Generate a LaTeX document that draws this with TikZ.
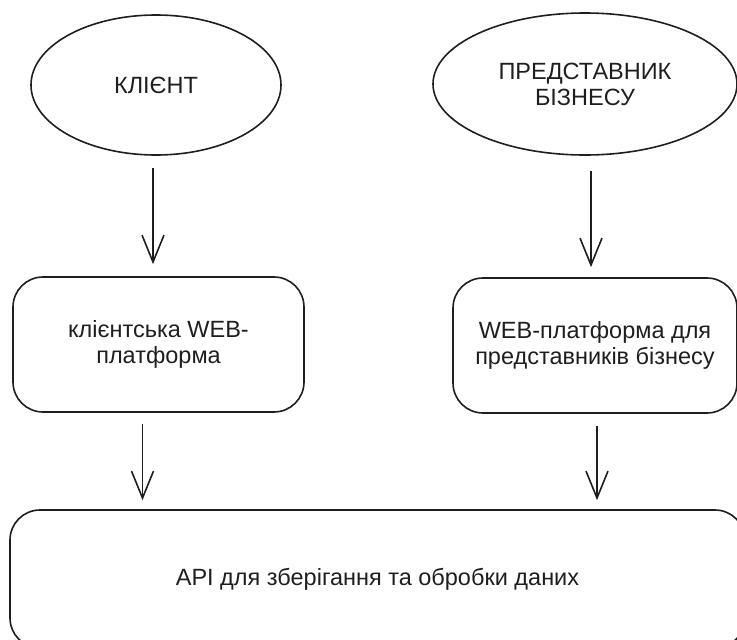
\documentclass[tikz,border=0pt]{standalone}
\usepackage{fontspec}
\setmainfont{Liberation Sans}
\usetikzlibrary{shapes.geometric,arrows.meta}
\definecolor{ink}{HTML}{1E1E1E}
\tikzset{
  every node/.style={font=\fontsize{23.5}{26}\selectfont, text=ink},
  actor/.style={ellipse, draw=ink, line width=1.6pt, inner sep=0pt},
  boxnode/.style={rectangle, rounded corners=30pt, draw=ink, line width=1.6pt, inner sep=0pt, align=center},
  arr/.style={draw=ink, line width=1.6pt, -{Straight Barb[length=27pt,width=22pt,line width=1.6pt]}}
}
\begin{document}
\begin{tikzpicture}[x=1pt,y=-1pt]
\useasboundingbox (0,0) rectangle (737,640);
\clip (0,0) rectangle (737,640);
\node[actor, minimum width=250pt, minimum height=140pt] (e1) at (156,85) {КЛІЄНТ};
\node[actor, minimum width=304pt, minimum height=142pt, align=center] (e2) at (585,84) {ПРЕДСТАВНИК\\БІЗНЕСУ};
\node[boxnode, minimum width=291pt, minimum height=135pt] (b1) at (158.5,344.5) {клієнтська WEB-\\платформа};
\node[boxnode, minimum width=284pt, minimum height=135pt] (b2) at (595,345.5) {WEB-платформа для\\представників бізнесу};
\node[boxnode, minimum width=735pt, minimum height=138pt] (b3) at (377.5,579) {API для зберігання та обробки даних};
\draw[arr, shorten <=12pt, shorten >=12pt] ([xshift=-3pt]e1.south) -- ([xshift=-3pt]e1.south |- b1.north);
\draw[arr, shorten <=15pt, shorten >=10pt] ([xshift=6pt]e2.south) -- ([xshift=6pt]e2.south |- b2.north);
\draw[arr, shorten <=11pt, shorten >=9pt] ([xshift=-16pt]b1.south) -- ([xshift=-16pt]b1.south |- b3.north);
\draw[arr, shorten <=12pt, shorten >=9pt] ([xshift=2pt]b2.south) -- ([xshift=2pt]b2.south |- b3.north);
\end{tikzpicture}
\end{document}
